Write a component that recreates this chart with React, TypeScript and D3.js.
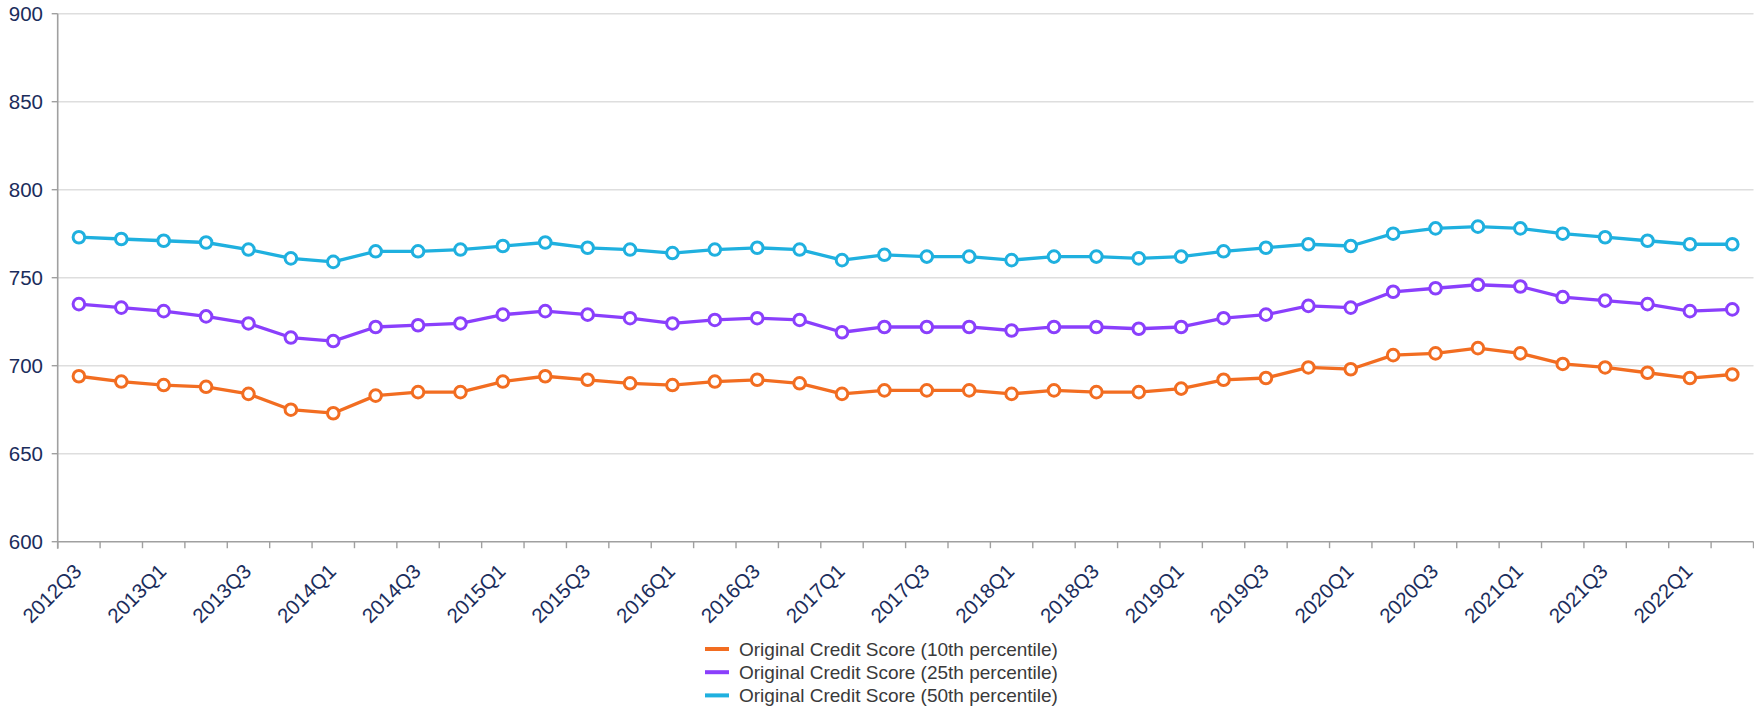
import React from "react";
import * as d3 from "d3";

const categories = [
  "2012Q3", "2012Q4", "2013Q1", "2013Q2", "2013Q3", "2013Q4", "2014Q1", "2014Q2",
  "2014Q3", "2014Q4", "2015Q1", "2015Q2", "2015Q3", "2015Q4", "2016Q1", "2016Q2",
  "2016Q3", "2016Q4", "2017Q1", "2017Q2", "2017Q3", "2017Q4", "2018Q1", "2018Q2",
  "2018Q3", "2018Q4", "2019Q1", "2019Q2", "2019Q3", "2019Q4", "2020Q1", "2020Q2",
  "2020Q3", "2020Q4", "2021Q1", "2021Q2", "2021Q3", "2021Q4", "2022Q1", "2022Q2",
];

const xTickLabels = [
  "2012Q3", "2013Q1", "2013Q3", "2014Q1", "2014Q3", "2015Q1", "2015Q3", "2016Q1",
  "2016Q3", "2017Q1", "2017Q3", "2018Q1", "2018Q3", "2019Q1", "2019Q3", "2020Q1",
  "2020Q3", "2021Q1", "2021Q3", "2022Q1",
];

const yTicks = [600, 650, 700, 750, 800, 850, 900];

const p10 = [
  694, 691, 689, 688, 684, 675, 673, 683, 685, 685, 691, 694, 692, 690, 689, 691,
  692, 690, 684, 686, 686, 686, 684, 686, 685, 685, 687, 692, 693, 699, 698, 706,
  707, 710, 707, 701, 699, 696, 693, 695,
];

const p25 = [
  735, 733, 731, 728, 724, 716, 714, 722, 723, 724, 729, 731, 729, 727, 724, 726,
  727, 726, 719, 722, 722, 722, 720, 722, 722, 721, 722, 727, 729, 734, 733, 742,
  744, 746, 745, 739, 737, 735, 731, 732,
];

const p50 = [
  773, 772, 771, 770, 766, 761, 759, 765, 765, 766, 768, 770, 767, 766, 764, 766,
  767, 766, 760, 763, 762, 762, 760, 762, 762, 761, 762, 765, 767, 769, 768, 775,
  778, 779, 778, 775, 773, 771, 769, 769,
];

const seriesNames = [
  "Original Credit Score (10th percentile)",
  "Original Credit Score (25th percentile)",
  "Original Credit Score (50th percentile)",
];

const seriesColors = ["#f26d21", "#8a3ffc", "#1fb0df"];

const W = 1754;
const H = 711;
const LEFT = 57.7;
const RIGHT = 1753.5;
const TOP = 13.7;
const BOTTOM = 541.7;

const textColor = "#1b2d5c";
const font = "'Liberation Sans', Arial, Helvetica, sans-serif";

export default function App() {
  const x = d3.scaleBand<string>().domain(categories).range([LEFT, RIGHT]).padding(0);
  const y = d3.scaleLinear().domain([600, 900]).range([BOTTOM, TOP]);
  const cx = (c: string) => (x(c) ?? 0) + x.bandwidth() / 2;

  const allSeries = [p10, p25, p50];
  const line = d3
    .line<number>()
    .x((_, i) => cx(categories[i]))
    .y((d) => y(d));

  const boundaries = categories.map((c) => x(c) ?? 0).concat([RIGHT]);
  const drawOrder = [2, 1, 0];

  return (
    <svg
      width={W}
      height={H}
      style={{ position: "absolute", left: 0, top: 0, background: "#fff" }}
      fontFamily={font}
    >
      {yTicks
        .filter((t) => t !== 600)
        .map((t) => (
          <line key={"g" + t} x1={LEFT} x2={RIGHT} y1={y(t)} y2={y(t)} stroke="#dedede" strokeWidth={1.4} />
        ))}
      {yTicks.map((t) => (
        <g key={"yt" + t}>
          <line x1={LEFT - 6} x2={LEFT} y1={y(t)} y2={y(t)} stroke="#a0a0a0" strokeWidth={1.4} />
          <text x={43} y={y(t)} dy="0.35em" textAnchor="end" fontSize={20.5} fill={textColor}>
            {t}
          </text>
        </g>
      ))}
      <line x1={LEFT} x2={LEFT} y1={TOP} y2={BOTTOM + 7} stroke="#a0a0a0" strokeWidth={1.6} />
      <line x1={LEFT} x2={RIGHT} y1={BOTTOM} y2={BOTTOM} stroke="#a0a0a0" strokeWidth={1.6} />
      {boundaries.map((b, i) => (
        <line key={"xt" + i} x1={b} x2={b} y1={BOTTOM} y2={BOTTOM + 6.5} stroke="#a0a0a0" strokeWidth={1.4} />
      ))}
      {xTickLabels.map((lab) => {
        const px = cx(lab) + 4;
        const py = BOTTOM + 31;
        return (
          <text
            key={"xl" + lab}
            x={px}
            y={py}
            textAnchor="end"
            fontSize={20.5}
            fill={textColor}
            transform={`rotate(-45 ${px} ${py})`}
          >
            {lab}
          </text>
        );
      })}
      {drawOrder.map((si) => (
        <g key={"s" + si}>
          <path d={line(allSeries[si]) ?? ""} fill="none" stroke={seriesColors[si]} strokeWidth={3.3} strokeLinejoin="round" />
          {allSeries[si].map((v, i) => (
            <circle
              key={i}
              cx={cx(categories[i])}
              cy={y(v)}
              r={5.8}
              fill="#fff"
              stroke={seriesColors[si]}
              strokeWidth={3}
            />
          ))}
        </g>
      ))}
      {seriesNames.map((name, i) => {
        const ly = 649 + i * 23.2;
        return (
          <g key={"lg" + i}>
            <rect x={705} y={ly - 2} width={24} height={4} fill={seriesColors[i]} />
            <text x={739} y={ly} dy="0.35em" fontSize={19} fill="#3a3a3a">
              {name}
            </text>
          </g>
        );
      })}
    </svg>
  );
}
